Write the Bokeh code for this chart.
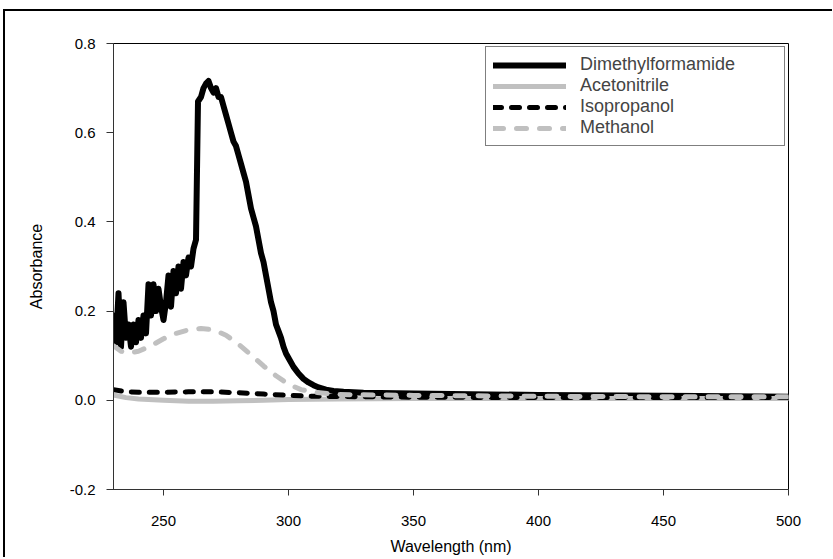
from bokeh.plotting import figure
from bokeh.models import FixedTicker, PrintfTickFormatter, Legend, LegendItem
from bokeh.embed import file_html
from bokeh.resources import INLINE

# ---- data ----
dmf_wl = [230, 231, 232, 233, 234, 235, 236, 237, 238, 239, 240, 241, 242, 243, 244, 245,
          246, 247, 248, 249, 250, 251, 252, 253, 254, 255, 256, 257, 258, 259, 260, 261,
          262, 263, 263.8, 265, 266, 267, 268, 269, 270, 271, 272, 273, 274, 275, 276, 277,
          278, 279, 280, 281, 282, 283, 284, 285, 286, 287, 288, 289, 290, 291, 292, 293,
          294, 295, 296, 297, 298, 299, 300, 302, 304, 306, 308, 310, 312, 315, 318, 322,
          330, 350, 400, 450, 500]
dmf_abs = [0.19, 0.13, 0.24, 0.12, 0.22, 0.14, 0.17, 0.12, 0.17, 0.13, 0.18, 0.14, 0.19, 0.15,
           0.26, 0.19, 0.26, 0.20, 0.25, 0.21, 0.18, 0.22, 0.28, 0.21, 0.29, 0.24, 0.30, 0.25,
           0.31, 0.28, 0.32, 0.30, 0.34, 0.36, 0.67, 0.68, 0.70, 0.71, 0.716, 0.70, 0.69, 0.70,
           0.68, 0.68, 0.66, 0.64, 0.62, 0.60, 0.58, 0.57, 0.55, 0.53, 0.51, 0.49, 0.46, 0.43,
           0.41, 0.39, 0.36, 0.33, 0.31, 0.28, 0.25, 0.22, 0.20, 0.17, 0.155, 0.14, 0.12, 0.105,
           0.095, 0.075, 0.06, 0.048, 0.04, 0.034, 0.029, 0.024, 0.021, 0.019, 0.017, 0.015,
           0.012, 0.010, 0.008]

acn_wl = [230, 235, 240, 250, 260, 270, 280, 290, 300, 320, 350, 400, 450, 500]
acn_abs = [0.012, 0.006, 0.003, 0.0, -0.002, -0.002, -0.001, 0.0, 0.002, 0.003, 0.004, 0.004,
           0.004, 0.004]

ipa_wl = [230, 235, 240, 250, 260, 270, 280, 290, 300, 310, 330, 350, 400, 450, 500]
ipa_abs = [0.024, 0.019, 0.018, 0.018, 0.019, 0.019, 0.017, 0.014, 0.011, 0.009, 0.008, 0.007,
           0.006, 0.006, 0.006]

meoh_wl = [230, 233, 236, 240, 245, 250, 255, 260, 265, 270, 275, 280, 285, 290, 295, 300,
           305, 310, 320, 350, 400, 450, 500]
meoh_abs = [0.122, 0.110, 0.106, 0.110, 0.122, 0.138, 0.150, 0.158, 0.161, 0.158, 0.146, 0.126,
            0.102, 0.077, 0.055, 0.036, 0.024, 0.018, 0.013, 0.011, 0.009, 0.008, 0.008]

series_names = ["Dimethylformamide", "Acetonitrile", "Isopropanol", "Methanol"]
x_ticks = [250, 300, 350, 400, 450, 500]
y_ticks = [-0.2, 0.0, 0.2, 0.4, 0.6, 0.8]

GRAY = "#c0c0c0"
FONT = "Liberation Sans"

p = figure(frame_width=675, frame_height=446,
           min_border_left=108, min_border_top=32, min_border_right=44, min_border_bottom=65,
           x_range=(230, 500), y_range=(-0.2, 0.8),
           output_backend="svg", toolbar_location=None,
           styles={"border-top": "2px solid black", "border-left": "2px solid black",
                   "margin-left": "3px", "margin-top": "9px"})

p.xgrid.visible = False
p.ygrid.visible = False
p.outline_line_color = "black"
p.outline_line_width = 1
p.background_fill_color = "white"
p.border_fill_color = "white"

r1 = p.line(dmf_wl, dmf_abs, line_color="black", line_width=6, line_join="round", line_cap="round")
r2 = p.line(acn_wl, acn_abs, line_color=GRAY, line_width=5, line_join="round", line_cap="round")
r3 = p.line(ipa_wl, ipa_abs, line_color="black", line_width=5, line_dash="8 10",
            line_join="round", line_cap="round")
r4 = p.line(meoh_wl, meoh_abs, line_color=GRAY, line_width=5, line_dash="10 13",
            line_join="round", line_cap="round")

for ax in (p.xaxis[0], p.yaxis[0]):
    ax.minor_tick_line_color = None
    ax.axis_line_color = "#333333"
    ax.major_tick_line_color = "#333333"
    ax.major_tick_in = 0
    ax.major_label_text_font = FONT
    ax.major_label_text_font_size = "15px"
    ax.major_label_text_color = "black"
    ax.axis_label_text_font = FONT
    ax.axis_label_text_font_size = "16px"
    ax.axis_label_text_font_style = "normal"
    ax.axis_label_text_color = "black"

p.xaxis.ticker = FixedTicker(ticks=x_ticks)
p.xaxis.formatter = PrintfTickFormatter(format="%d")
p.xaxis.major_tick_out = 6
p.xaxis.major_label_standoff = 20
p.xaxis.axis_label = "Wavelength (nm)"
p.xaxis.axis_label_standoff = 9

p.yaxis.ticker = FixedTicker(ticks=y_ticks)
p.yaxis.formatter = PrintfTickFormatter(format="%.1f")
p.yaxis.major_tick_out = 7
p.yaxis.major_label_standoff = 11
p.yaxis.axis_label = "Absorbance"
p.yaxis.axis_label_standoff = 22

legend = Legend(items=[LegendItem(label=series_names[0], renderers=[r1]),
                       LegendItem(label=series_names[1], renderers=[r2]),
                       LegendItem(label=series_names[2], renderers=[r3]),
                       LegendItem(label=series_names[3], renderers=[r4])],
                location="top_right", margin=3, padding=7, spacing=0,
                glyph_width=73, glyph_height=20, label_height=20, label_width=197,
                label_standoff=14,
                label_text_font=FONT, label_text_font_size="18px",
                border_line_color="black", border_line_width=1,
                background_fill_color="white", background_fill_alpha=1)
p.add_layout(legend)

open("out.html", "w").write(file_html(p, INLINE))
